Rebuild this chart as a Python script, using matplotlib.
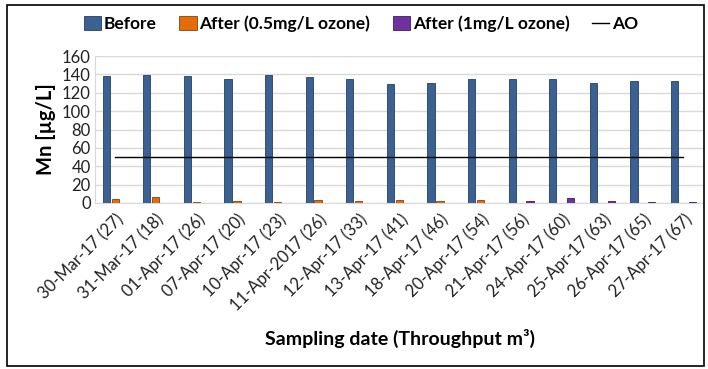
import matplotlib.pyplot as plt
import numpy as np
from matplotlib.patches import Rectangle

plt.rcParams['font.family'] = ['Lato', 'DejaVu Sans']

dates = ['30-Mar-17 (27)', '31-Mar-17 (18)', '01-Apr-17 (26)', '07-Apr-17 (20)',
         '10-Apr-17 (23)', '11-Apr-2017 (26)', '12-Apr-17 (33)', '13-Apr-17 (41)',
         '18-Apr-17 (46)', '20-Apr-17 (54)', '21-Apr-17 (56)', '24-Apr-17 (60)',
         '25-Apr-17 (63)', '26-Apr-17 (65)', '27-Apr-17 (67)']
before = [138, 139, 137.8, 135.3, 139, 137.5, 134.6, 129.8, 130.9, 135.3,
          135.3, 135.3, 131.2, 132.6, 132.6]
after_05 = [4.3, 6.1, 1.4, 2.5, 1.0, 2.9, 2.2, 2.9, 2.2, 3.6,
            0, 0, 0, 0, 0]
after_1 = [0, 0, 0, 0, 0, 0, 0, 0, 0, 0,
           2.2, 5.4, 2.2, 1.5, 1.5]
ao = [50] * 15

x = np.arange(len(dates))
w = 0.18
off = 0.22

fig = plt.figure(figsize=(7.08, 3.69), dpi=100)
ax = fig.add_axes([0.134, 0.450, 0.860, 0.398])

b1 = ax.bar(x - off, before, w, color='#3A6191', edgecolor='#24405f', linewidth=0.6, label='Before', zorder=3)
b2 = ax.bar(x, after_05, w, color='#E46C0A', edgecolor='#8a4206', linewidth=0.6, label='After (0.5mg/L ozone)', zorder=3)
b3 = ax.bar(x + off, after_1, w, color='#7030A0', edgecolor='#3e1a59', linewidth=0.6, label='After (1mg/L ozone)', zorder=3)
l1, = ax.plot(x, ao, color='black', linewidth=1.0, label='AO', zorder=4)

ax.set_xlim(-0.5, 14.5)
ax.set_ylim(0, 160)
ax.set_yticks(range(0, 161, 20))
ax.yaxis.grid(True, color='#D9D9D9', linewidth=1, zorder=0)
ax.set_axisbelow(True)
for s in ['top', 'right']:
    ax.spines[s].set_visible(False)
for s in ['left', 'bottom']:
    ax.spines[s].set_color('#D9D9D9')
ax.tick_params(axis='both', length=0, labelsize=12, colors='#222222', pad=3)
ax.set_xticks(x)
ax.set_xticklabels(dates, rotation=45, ha='right', rotation_mode='anchor')
ax.tick_params(axis='x', pad=6)

ax.set_ylabel('Mn [µg/L]', fontsize=14.5, fontweight='bold', labelpad=4)
fig.text(0.565, 0.065, 'Sampling date (Throughput m³)', fontsize=14, fontweight='bold', ha='center')

fig.legend([b1, b2, b3, l1], ['Before', 'After (0.5mg/L ozone)', 'After (1mg/L ozone)', 'AO'],
           loc='center', bbox_to_anchor=(0.51, 0.935), ncol=4, frameon=False,
           prop={'weight': 'bold', 'size': 12.5}, handlelength=1.0, handleheight=0.9,
           handletextpad=0.15, columnspacing=1.3)

fig.patches.append(Rectangle((0.010, 0.008), 0.985, 0.978, transform=fig.transFigure,
                             fill=False, edgecolor='black', linewidth=1.2))

fig.savefig('out.png', dpi=100)
